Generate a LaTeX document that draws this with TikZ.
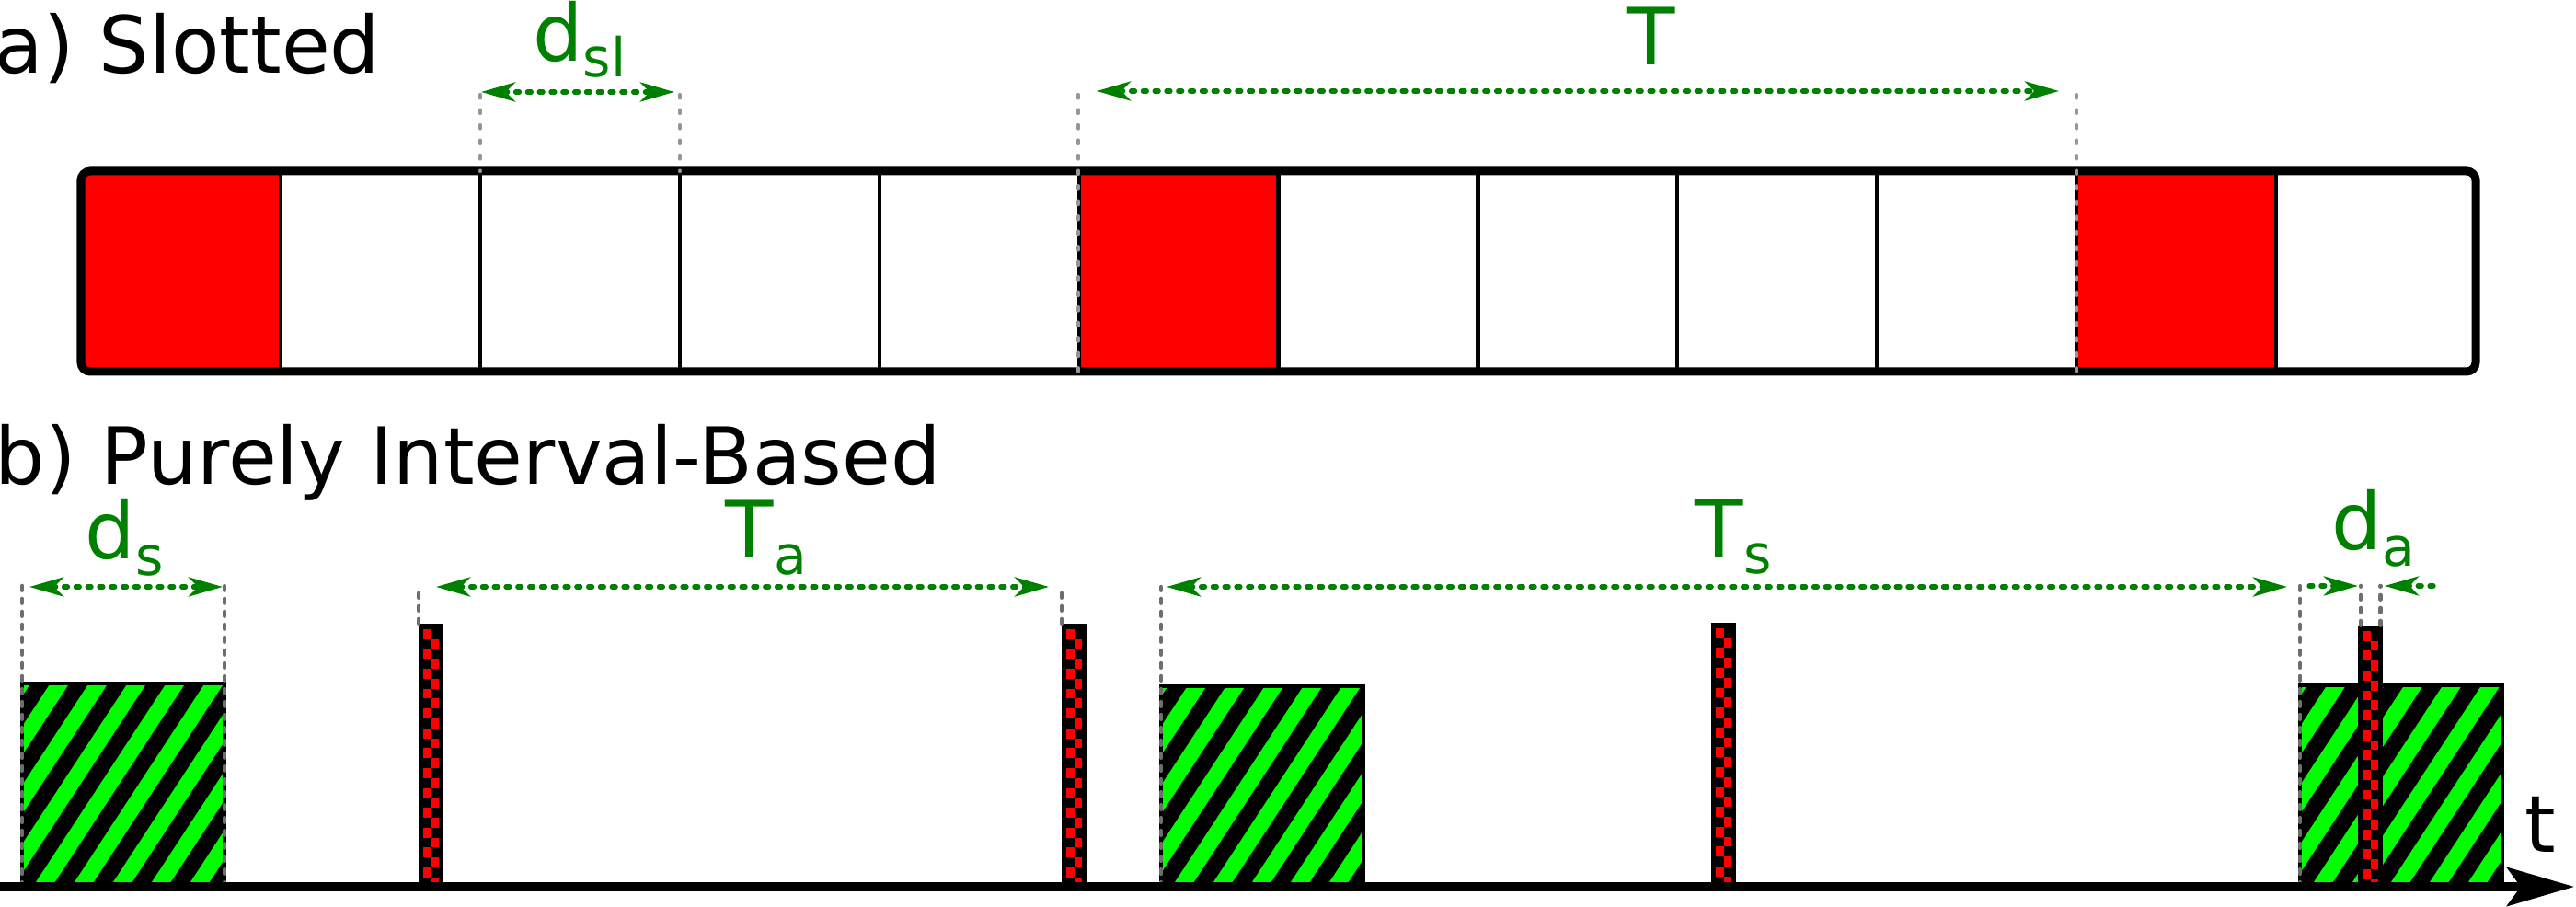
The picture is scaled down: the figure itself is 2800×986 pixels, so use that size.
\documentclass[tikz,border=0pt]{standalone}
\usepackage{fontspec}
\setmainfont{DejaVu Sans}
\usetikzlibrary{arrows.meta}
\definecolor{dimgreen}{RGB}{0,128,0}
\definecolor{limefill}{RGB}{0,255,0}
\definecolor{guidecolA}{RGB}{150,150,150}
\definecolor{guidecolB}{RGB}{110,110,110}
\newcommand{\mysz}{\fontsize{24.4pt}{29pt}\selectfont}
\newcommand{\mysub}[1]{\raisebox{-0.17cm}{\fontsize{16.6pt}{20pt}\selectfont #1}}
\tikzset{
  slotframe/.style={line width=0.09cm, rounded corners=0.1cm},
  slotdiv/.style={line width=0.042cm},
  gdashA/.style={draw=guidecolA, line width=0.042cm, line cap=round, dash pattern=on 0.035cm off 0.13cm},
  gdashB/.style={draw=guidecolB, line width=0.042cm, line cap=round, dash pattern=on 0.05cm off 0.09cm},
  dimtip/.tip={Stealth[length=0.37cm,width=0.21cm,inset=0.1cm]},
  dimline/.style={draw=dimgreen, line width=0.052cm, line cap=round, dash pattern=on 0.04cm off 0.088cm},
  dimlab/.style={text=dimgreen, inner sep=0pt, anchor=base, font=\mysz},
  heading/.style={inner sep=0pt, anchor=base west, font=\mysz},
  stripebox/.style={draw, line width=0.04cm, anchor=south west, inner sep=0pt, outer sep=0pt,
    minimum width=2.2cm,
    path picture={
      \fill[limefill] (path picture bounding box.south west) rectangle (path picture bounding box.north east);
      \foreach \k in {-4,...,6}
        \draw[line width=0.175cm] ([xshift={(1+42*\k)*0.01cm}]path picture bounding box.south west) -- ++(160,-244);
    }},
  chkbar/.style={fill=black, anchor=south west, inner sep=0pt, outer sep=0pt, minimum width=0.265cm,
    path picture={
      \foreach \i in {0,...,26} {
        \pgfmathtruncatemacro\cc{mod(\i,2)}
        \fill[red] ([xshift={(5+8.5*\cc)*0.01cm}, yshift={-(6+10.8*\i)*0.01cm}]path picture bounding box.north west) rectangle ++(8.5,10.8);
      }
    }},
  timeaxis/.style={line width=0.09cm, -{Stealth[length=0.73cm,width=0.42cm,inset=0.15cm]}},
}
\begin{document}
\begin{tikzpicture}[x=0.01cm, y=-0.01cm]
\useasboundingbox (0,0) rectangle (2800,986);

% ---------- a) Slotted ----------
\node[heading] (ha) at (-6,80) {a) Slotted};
\begin{scope}
  \clip[rounded corners=0.1cm] (88,186) rectangle (2691,404);
  \foreach \i in {0,5,10}
    \fill[red] ({88+216.92*\i},186) rectangle ({88+216.92*(\i+1)},404);
\end{scope}
\foreach \i in {1,...,11}
  \draw[slotdiv] ({88+216.92*\i},186) -- ({88+216.92*\i},404);
\draw[slotframe] (88,186) rectangle (2691,404);

\draw[gdashA] (522,103) -- (522,186);
\draw[gdashA] (739,103) -- (739,186);
\draw[gdashA] (1172,103) -- (1172,406);
\draw[gdashA] (2257,103) -- (2257,406);

\coordinate (dslA) at (523,100);
\coordinate (dslB) at (733,100);
\draw[dimline, dimtip-dimtip] (dslA) -- (dslB);
\node[dimlab] (ldsl) at (630,67) {d\mysub{sl}};

\coordinate (TA) at (1192,99);
\coordinate (TB) at (2238,99);
\draw[dimline, dimtip-dimtip] (TA) -- (TB);
\node[dimlab] (lT) at (1795,71) {T};

% ---------- b) Purely Interval-Based ----------
\node[heading] (hb) at (-6,527) {b) Purely Interval-Based};

\node[stripebox, minimum height=2.21cm] (s1) at (24,964) {};
\node[stripebox, minimum height=2.18cm] (s2) at (1262,964) {};
\node[stripebox, minimum height=2.19cm] (s3) at (2500,964) {};

\node[chkbar, minimum height=2.86cm] (b1) at (455,964) {};
\node[chkbar, minimum height=2.86cm] (b2) at (1154,964) {};
\node[chkbar, minimum height=2.87cm] (b3) at (1860,964) {};
\node[chkbar, minimum height=2.84cm] (b4) at (2563,964) {};

\draw[gdashB] (s1.south west) -- ++(0,-332);
\draw[gdashB] (s1.south east) -- ++(0,-327);
\draw[gdashB] (b1.north west) -- ++(0,-41);
\draw[gdashB] (b2.north west) -- ++(0,-40);
\draw[gdashB] (s2.south west) -- ++(0,-326);
\draw[gdashB] (s3.south west) -- ++(0,-327);
\draw[gdashB] ([xshift=0.03cm]b4.north west) -- ++(0,-43);
\draw[gdashB] ([xshift=-0.02cm]b4.north east) -- ++(0,-43);

\coordinate (dsA) at (32,638);
\coordinate (dsB) at (242,638);
\draw[dimline, dimtip-dimtip] (dsA) -- (dsB);
\node[dimlab] (lds) at (135,608) {d\mysub{s}};

\coordinate (TaA) at (474,638);
\coordinate (TaB) at (1140,638);
\draw[dimline, dimtip-dimtip] (TaA) -- (TaB);
\node[dimlab] (lTa) at (833,607) {T\mysub{a}};

\coordinate (TsA) at (1268,638);
\coordinate (TsB) at (2486,638);
\draw[dimline, dimtip-dimtip] (TsA) -- (TsB);
\node[dimlab] (lTs) at (1884,606) {T\mysub{s}};

\coordinate (daL0) at (2510,637);
\coordinate (daL1) at (2563,637);
\coordinate (daR0) at (2645,637);
\coordinate (daR1) at (2592,637);
\draw[dimline, -dimtip] (daL0) -- (daL1);
\draw[dimline, -dimtip] (daR0) -- (daR1);
\node[dimlab] (lda) at (2580,598) {d\mysub{a}};

\coordinate (t0) at (0,964);
\coordinate (t1) at (2798,964);
\draw[timeaxis] (t0) -- (t1);
\node[heading] (lt) at (2744,927) {t};
\end{tikzpicture}
\end{document}
